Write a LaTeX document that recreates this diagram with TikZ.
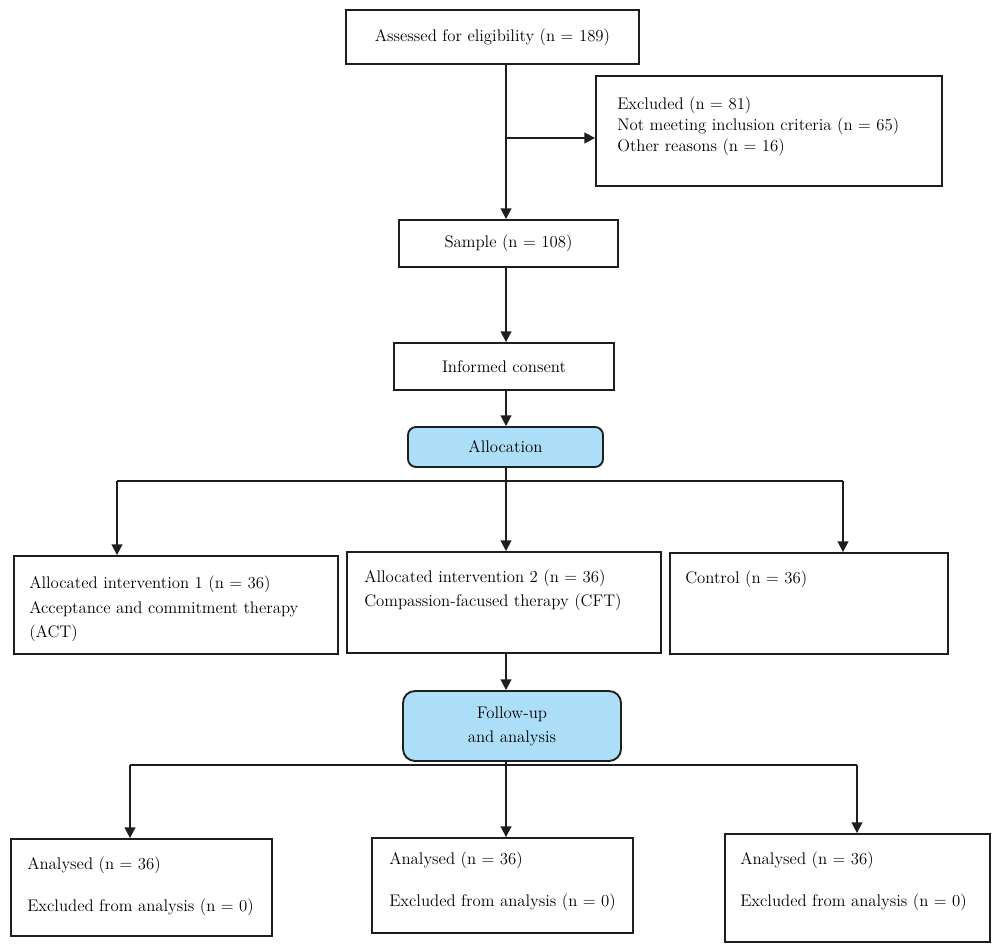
\documentclass[tikz,border=0pt]{standalone}
\usepackage{tikz}
\usetikzlibrary{arrows.meta,positioning,fit,calc}
\definecolor{stageblue}{HTML}{ADDEF8}
\definecolor{edgegray}{HTML}{1E1E1E}
\tikzset{
  block/.style={draw=edgegray,line width=1.4pt,inner sep=0pt,align=center,
    font=\fontsize{12.6}{18}\selectfont},
  stage/.style={block,fill=stageblue,rounded corners=6pt},
  note/.style={inner sep=0pt,align=left,anchor=west,
    font=\fontsize{12.6}{18.4}\selectfont},
  link/.style={draw=edgegray,line width=1.4pt},
  flow/.style={link,-{Triangle[length=8pt,width=8pt]}}
}

\begin{document}
\begin{tikzpicture}[x=0.75pt,y=-0.75pt]
  \useasboundingbox (0,0) rectangle (1000,952);
  % screening
  \node[block,minimum width=219.75pt,minimum height=40.5pt] (assessed) at (492.5,37)
    {Assessed for eligibility (n = 189)};
  \node[block,fit={(596,76) (942,186)}] (excluded) {};
  \node[note,font=\fontsize{12.6}{15.75}\selectfont] (excludedtxt) at (617,126)
    {Excluded (n = 81)\\Not meeting inclusion criteria (n = 65)\\Other reasons (n = 16)};
  \node[block,minimum width=164.25pt,minimum height=35.25pt] (sample) at (508.5,243.5)
    {Sample (n = 108)};
  \node[block,minimum width=165pt,minimum height=35.25pt] (consent) at (504,366.5)
    {Informed consent};
  \node[stage,minimum width=146.25pt,minimum height=30pt] (allocation) at (505.5,447)
    {Allocation};
  % groups
  \node[block,fit={(14,556) (338,654)}] (act) {};
  \node[note] (acttxt) at (29,609)
    {Allocated intervention 1 (n = 36)\\Acceptance and commitment therapy\\(ACT)};
  \node[block,fit={(347,552) (661,653)}] (cft) {};
  \node[note] (cfttxt) at (364,590.5)
    {Allocated intervention 2 (n = 36)\\Compassion-facused therapy (CFT)};
  \node[block,fit={(670,553) (948,654)}] (control) {};
  \node[note] (controltxt) at (685,579) {Control (n = 36)};
  \node[stage,rounded corners=9pt,minimum width=163.5pt,minimum height=52.5pt]
    (followup) at (512,726) {Follow-up\\and analysis};
  % analysis
  \node[block,fit={(11,839) (272,936)}] (anact) {};
  \node[note] (anacttxt) at (27,886)
    {Analysed (n = 36)\\[13pt]Excluded from analysis (n = 0)};
  \node[block,fit={(372,838) (633,933)}] (ancft) {};
  \node[note] (ancfttxt) at (389,881)
    {Analysed (n = 36)\\[13pt]Excluded from analysis (n = 0)};
  \node[block,fit={(725,834) (990,942)}] (ancontrol) {};
  \node[note] (ancontroltxt) at (740,881)
    {Analysed (n = 36)\\[13pt]Excluded from analysis (n = 0)};

  \coordinate (spine) at (506,0);
  \coordinate (split) at (506,138);
  \coordinate (busleft) at (117,481);
  \coordinate (busright) at (843,481);
  \coordinate (lowleft) at (130,765);
  \coordinate (lowright) at (857,765);

  \draw[flow] (assessed.south -| spine) -- (sample.north -| spine);
  \draw[flow] (split) -- (split -| excluded.west);
  \draw[flow] (sample.south -| spine) -- (consent.north -| spine);
  \draw[flow] (consent.south -| spine) -- (allocation.north -| spine);
  \draw[link] (allocation.south -| spine) -- (spine |- busleft);
  \draw[link] (busleft) -- (busright);
  \draw[flow] (busleft) -- (busleft |- act.north);
  \draw[flow] (spine |- busleft) -- (spine |- cft.north);
  \draw[flow] (busright) -- (busright |- control.north);
  \draw[flow] (cft.south -| spine) -- (followup.north -| spine);
  \draw[link] (lowleft) -- (lowright);
  \draw[flow] (lowleft) -- (lowleft |- anact.north);
  \draw[flow] (followup.south -| spine) -- (spine |- ancft.north);
  \draw[flow] (lowright) -- (lowright |- ancontrol.north);
\end{tikzpicture}
\end{document}
